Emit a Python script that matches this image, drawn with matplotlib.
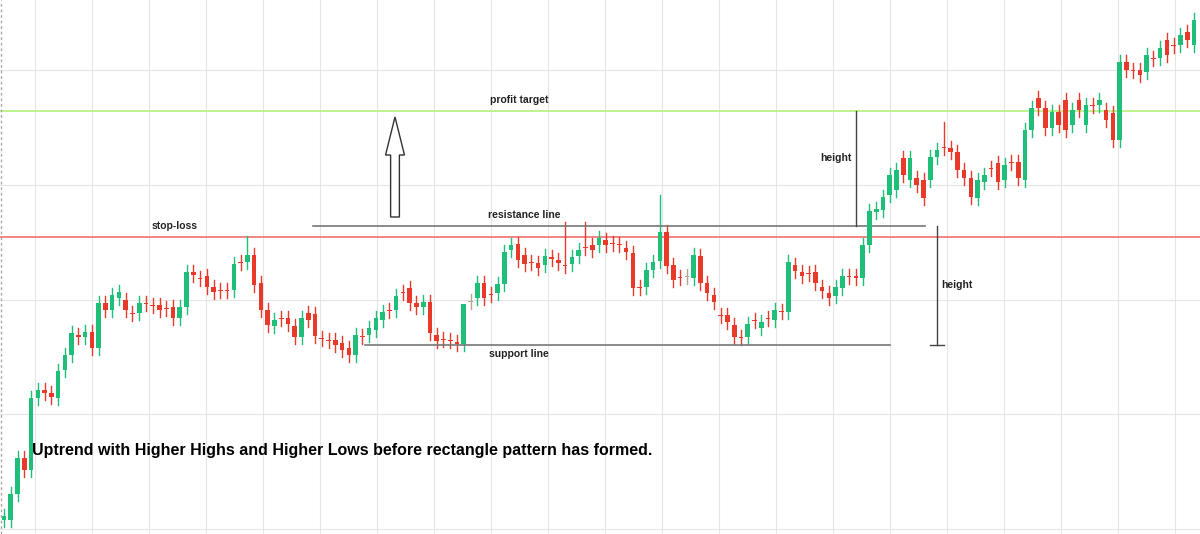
import matplotlib
matplotlib.use("Agg")
import matplotlib.pyplot as plt
from matplotlib.patches import FancyArrow

H = 534
# candle bodies, as pixel rows (open_y, close_y)
open_y = [520,520,494,458,470,398,390,393,398,370,355,335,337,332,348,303,310,298,300,313,313,303,305,305,308,307,318,307,272,278,276,287,290,290,290,262,262,255,283,310,326,318,318,326,337,313,314,338,340,340,343,348,355,336,335,330,320,310,310,292,288,
          303,307,302,335,339,340,342,344,302,298,283,294,293,284,250,244,255,262,263,265,257,260,265,264,256,247,245,245,240,243,244,248,253,287,287,270,261,232,265,277,277,278,256,283,295,315,315,325,337,337,320,328,318,320,311,312,265,272,273,272,287,293,296,288,276,276,278,245,212,210,
          195,190,158,180,178,180,180,157,147,148,152,170,178,198,182,168,163,180,162,162,180,130,98,108,128,112,100,125,100,125,105,105,110,113,140,62,70,70,72,58,58,40,45,45,32,45]
close_y = [516,494,458,470,398,390,393,397,371,355,333,337,332,348,303,310,295,292,310,314,303,304,306,310,309,318,307,272,275,279,287,292,291,291,264,263,255,285,310,325,320,319,324,337,318,320,336,339,341,345,350,355,335,337,328,318,312,311,296,293,303,
           307,302,333,341,340,341,344,304,301,283,298,295,284,252,245,260,264,263,268,256,259,263,266,257,250,248,250,238,245,244,245,252,288,288,270,262,232,266,280,278,276,255,283,293,302,316,322,337,338,324,321,322,319,310,312,262,271,276,274,283,291,298,287,276,277,278,245,211,209,197,
           175,170,175,158,185,198,157,150,148,152,170,178,197,180,175,169,182,165,163,178,130,108,108,128,112,125,130,110,110,105,106,100,120,140,62,70,71,75,55,59,48,55,46,35,40,20]
long_wicks = {36: 236, 97: 195, 68: 343, 83: 222, 86: 222, 139: 122}

price_open = [H - v for v in open_y]
price_close = [H - v for v in close_y]
n = len(price_open)
x0_px, x1_px = 4, 1194
step = (x1_px - x0_px) / (n - 1)

fig = plt.figure(figsize=(12, 5.34), dpi=100)
ax = fig.add_axes([0, 0, 1, 1])
ax.set_xlim(-x0_px / step, (1200 - x0_px) / step)
ax.set_ylim(0, H)
ax.axis("off")

def px(xp):
    return (xp - x0_px) / step

# grid
for gx in range(35, 1200, 57):
    ax.axvline(px(gx), color="#e6e6e6", lw=0.8, zorder=0)
for gy in [70, 185, 300, 414, 529]:
    ax.axhline(H - gy, color="#e6e6e6", lw=0.8, zorder=0)
ax.plot([px(1), px(1)], [0, H], color="#aaaaaa", lw=1, ls=(0, (2, 2)))

green, red = "#1fbf7a", "#e8392b"
for i, (o, c) in enumerate(zip(price_open, price_close)):
    col = green if c > o else red
    if abs(c - o) < 1.5:
        col = "#b0a890" if c >= o else red
    top, bot = max(o, c), min(o, c)
    hi = H - long_wicks[i] if i in long_wicks else top + 7
    ax.plot([i, i], [bot - 7, hi], color=col, lw=1, zorder=2)
    ax.bar(i, max(top - bot, 1.5), bottom=bot, width=0.68, color=col, zorder=3)

# levels
ax.axhline(H - 111, color="#b5f07a", lw=1.2, zorder=1)
ax.axhline(H - 237, color="#f07070", lw=1.2, zorder=1)
ax.plot([px(313), px(925)], [H - 226, H - 226], color="#777777", lw=1.2)
ax.plot([px(365), px(890)], [H - 345, H - 345], color="#777777", lw=1.2)
ax.plot([px(856), px(856)], [H - 111, H - 226], color="#444444", lw=1)
ax.plot([px(937), px(937)], [H - 226, H - 345], color="#444444", lw=1)
ax.plot([px(930), px(944)], [H - 345, H - 345], color="#444444", lw=1)

arrow = FancyArrow(px(395), H - 217, 0, 100, width=1.3, head_width=2.8, head_length=38,
                   length_includes_head=True, fc="white", ec="#333333", lw=1)
ax.add_patch(arrow)

tkw = dict(fontsize=7.5, fontweight="bold", color="#222222", family="Arial" if False else "Liberation Sans")
ax.text(px(519), H - 100, "profit target", ha="center", va="center", **tkw)
ax.text(px(175), H - 226, "stop-loss", ha="center", va="center", **tkw)
ax.text(px(524), H - 215, "resistance line", ha="center", va="center", **tkw)
ax.text(px(519), H - 354, "support line", ha="center", va="center", **tkw)
ax.text(px(836), H - 158, "height", ha="center", va="center", **tkw)
ax.text(px(957), H - 285, "height", ha="center", va="center", **tkw)
ax.text(px(32), H - 451, "Uptrend with Higher Highs and Higher Lows before rectangle pattern has formed.",
        ha="left", va="center", fontsize=11.5, fontweight="bold", color="black", family="Liberation Sans")

fig.savefig("out.png", dpi=100)
